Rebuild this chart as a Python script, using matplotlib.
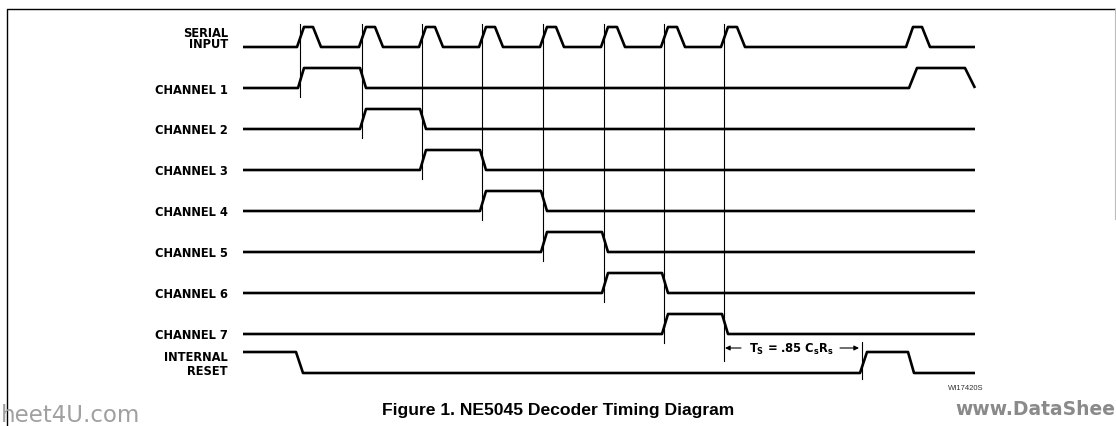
import matplotlib
matplotlib.use("Agg")
import matplotlib.pyplot as plt

plt.rcParams['mathtext.fontset'] = 'custom'
plt.rcParams['mathtext.rm'] = 'DejaVu Sans:bold'
plt.rcParams['mathtext.bf'] = 'DejaVu Sans:bold'
plt.rcParams['mathtext.it'] = 'DejaVu Sans:bold'

# ---------------- data ----------------
channel_labels = ["CHANNEL 1", "CHANNEL 2", "CHANNEL 3", "CHANNEL 4",
                  "CHANNEL 5", "CHANNEL 6", "CHANNEL 7"]
clock_edges = [300, 362, 422, 482, 543, 604, 664, 724]   # serial input pulse edges
next_frame_pulse = 909                                     # first pulse of next frame
trace_start = 243
trace_end = 975
reset_transitions = [(296, 303, 0), (860, 867, 1), (908, 914, 0)]   # (t0, t1, level)
ch1_next_frame = [(909, 917, 1), (965, 975, 0)]
ts_start = 724
ts_end = 862
ts_label = r"T$_\mathrm{S}$ = .85 C$_\mathrm{s}$R$_\mathrm{s}$"
caption = "Figure 1. NE5045 Decoder Timing Diagram"
part_number = "WI17420S"

# ---------------- geometry / style ----------------
W, H = 1116, 427
row0, pitch, amp = 48, 41, 20
reset_low, reset_high = 374, 353
sig_lw = 1.9
thin_lw = 0.8
lab_font = dict(family="DejaVu Sans", weight="bold", size=8.3)

fig = plt.figure(figsize=(W / 100, H / 100), dpi=100)
ax = fig.add_axes([0, 0, 1, 1])
ax.set_xlim(0, W)
ax.set_ylim(H, 0)
ax.axis("off")


def wave(transitions, initial=0):
    xs, ls = [trace_start], [initial]
    cur = initial
    for t0, t1, lvl in transitions:
        xs += [t0, t1]
        ls += [cur, lvl]
        cur = lvl
    if xs[-1] < trace_end:
        xs.append(trace_end)
        ls.append(cur)
    return xs, ls


def draw(xs, ls, base, high):
    ys = [base + (high - base) * l for l in ls]
    ax.plot(xs, ys, color="black", lw=sig_lw, solid_joinstyle="round",
            solid_capstyle="butt")


# serial input
serial_tr = []
for v in clock_edges + [next_frame_pulse]:
    serial_tr += [(v - 3, v + 4, 1), (v + 13, v + 21, 0)]
xs, ls = wave(serial_tr)
draw(xs, ls, row0, row0 - amp)

# channels
for k in range(1, 8):
    tr = [(clock_edges[k - 1] - 2, clock_edges[k - 1] + 4, 1),
          (clock_edges[k] - 2, clock_edges[k] + 4, 0)]
    if k == 1:
        tr += ch1_next_frame
    xs, ls = wave(tr)
    base = row0 + pitch * k
    draw(xs, ls, base, base - amp)

# internal reset
xs, ls = wave(reset_transitions, initial=1)
draw(xs, ls, reset_low, reset_high)

# vertical timing lines
for k, v in enumerate(clock_edges):
    bottom = row0 + pitch * (k + 1) + 9 if k < 7 else 362
    ax.plot([v, v], [25, bottom], color="black", lw=thin_lw)
ax.plot([ts_end, ts_end], [343, 380], color="black", lw=thin_lw)

# Ts annotation
ya = 349
ax.annotate("", xy=(ts_start + 1, ya), xytext=(ts_start + 17, ya),
            arrowprops=dict(arrowstyle="-|>", lw=thin_lw, color="black",
                            mutation_scale=7, shrinkA=0, shrinkB=0))
ax.annotate("", xy=(ts_end - 3, ya), xytext=(ts_end - 22, ya),
            arrowprops=dict(arrowstyle="-|>", lw=thin_lw, color="black",
                            mutation_scale=7, shrinkA=0, shrinkB=0))
ax.text((ts_start + ts_end) / 2 - 2, ya + 4, ts_label, ha="center",
        va="baseline", fontsize=8.3, family="DejaVu Sans", weight="bold",
        color="black")

# labels
lx = 228
ax.text(lx, 32.5 + 4.5, "SERIAL", ha="right", va="baseline", **lab_font)
ax.text(lx, 44 + 4.5, "INPUT", ha="right", va="baseline", **lab_font)
for k, lab in enumerate(channel_labels, start=1):
    ax.text(lx, row0 + pitch * k + 4.5, lab, ha="right", va="baseline", **lab_font)
ax.text(lx, 357 + 4.5, "INTERNAL", ha="right", va="baseline", **lab_font)
ax.text(lx, 371 + 4.5, "RESET", ha="right", va="baseline", **lab_font)

# frame
ax.plot([7, 7, 1115], [H, 10, 10], color="black", lw=1.0)
ax.plot([1115, 1115], [10, 220], color="#bbbbbb", lw=0.8)

# caption & small texts
ax.text(558, 415, caption, ha="center", va="baseline", family="Liberation Sans",
        weight="bold", fontsize=12.6, color="black")
ax.text(966, 390, part_number, ha="center", va="baseline", family="Liberation Sans",
        fontsize=5.5, color="#333333")
ax.text(1, 422, "heet4U.com", ha="left", va="baseline", family="DejaVu Sans",
        fontsize=16.5, color="#a0a0a0")
ax.text(955, 415, "www.DataShee", ha="left", va="baseline", family="DejaVu Sans",
        weight="bold", fontsize=13.5, color="#8a8a8a")

fig.savefig("out.png", dpi=100, facecolor="white")
